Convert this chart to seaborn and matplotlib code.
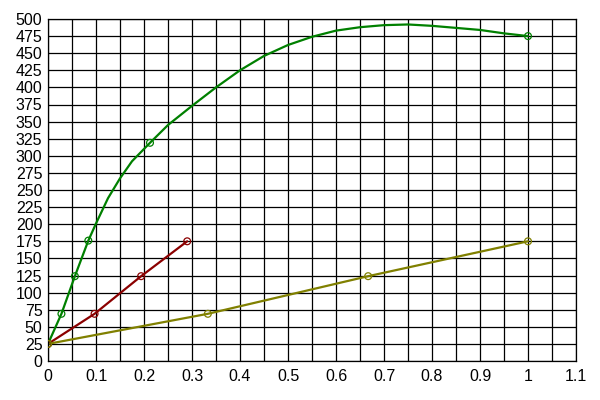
import numpy as np
import pandas as pd
import matplotlib
matplotlib.use("Agg")
import matplotlib.pyplot as plt
from matplotlib.ticker import MultipleLocator, FuncFormatter
import seaborn as sns

# green curve, markers only at some points
green_x = [0, 0.028, 0.056, 0.084, 0.1, 0.125, 0.15, 0.175, 0.2, 0.2125,
           0.25, 0.3, 0.35, 0.4, 0.45, 0.5, 0.55, 0.6, 0.65, 0.7, 0.75,
           0.8, 0.85, 0.9, 0.95, 1.0]
green_y = [25, 69, 124, 176, 201, 238, 267, 292, 310, 319,
           345, 373, 400, 425, 446, 462, 474, 483, 488, 491, 492,
           490, 487, 484, 479, 475]
green_mx = [0, 0.028, 0.056, 0.084, 0.2125, 1.0]
green_my = [25, 69, 124, 176, 319, 475]

red_x = [0, 0.097, 0.194, 0.29]
red_y = [25, 69, 124, 175]

olive_x = [0, 0.333, 0.667, 1.0]
olive_y = [25, 69, 124, 175]

sns.set_style("white")
plt.rcParams['font.family'] = ['Liberation Sans', 'DejaVu Sans']

fig = plt.figure(figsize=(6, 4), dpi=100)
ax = fig.add_axes([0.08, 0.0975, 0.88, 0.855])

series = [
    (green_x, green_y, green_mx, green_my, "#008000"),
    (red_x, red_y, red_x, red_y, "#8b0000"),
    (olive_x, olive_y, olive_x, olive_y, "#808000"),
]
for lx, ly, mx, my, col in series:
    sns.lineplot(x=lx, y=ly, ax=ax, color=col, linewidth=1.6, sort=False,
                 estimator=None)
    sns.scatterplot(x=mx, y=my, ax=ax, marker="o", s=24, facecolors="none",
                    edgecolor=col, linewidth=0.9, zorder=5)

ax.set_xlim(0, 1.1)
ax.set_ylim(0, 500)
ax.xaxis.set_major_locator(MultipleLocator(0.1))
ax.xaxis.set_minor_locator(MultipleLocator(0.05))
ax.yaxis.set_major_locator(MultipleLocator(25))
ax.xaxis.set_major_formatter(FuncFormatter(lambda v, p: f"{v:g}"))
ax.grid(True, which="both", color="black", linewidth=0.9)
ax.set_axisbelow(True)
for s in ax.spines.values():
    s.set_color("black")
    s.set_linewidth(0.9)
ax.tick_params(axis="both", which="both", length=2, color="black",
               labelsize=11.5, labelcolor="black", pad=2)
ax.tick_params(axis="x", pad=4)

fig.savefig("out.png", dpi=100)
